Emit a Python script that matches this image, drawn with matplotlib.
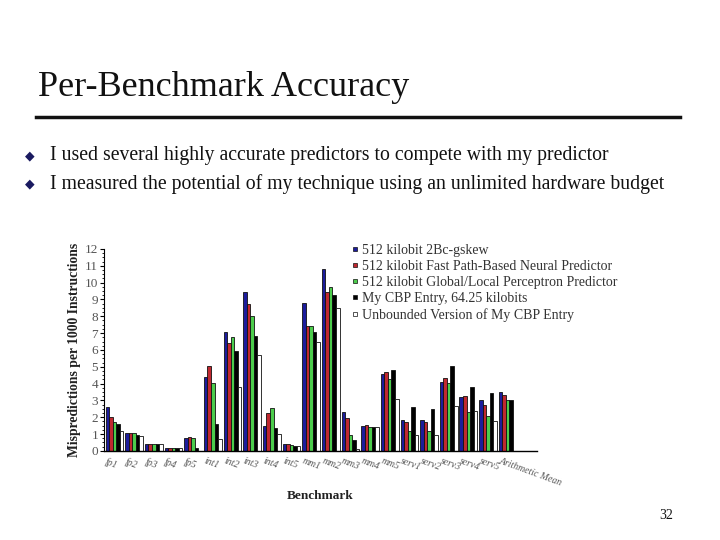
"""
Per-benchmark branch misprediction rates, redrawn as a slide.
"""
import numpy as np
import matplotlib
matplotlib.use("Agg")
import matplotlib.pyplot as plt
from matplotlib.lines import Line2D

# benchmarks along the x axis
benchmarks = ["fp1", "fp2", "fp3", "fp4", "fp5",
              "int1", "int2", "int3", "int4", "int5",
              "mm1", "mm2", "mm3", "mm4", "mm5",
              "serv1", "serv2", "serv3", "serv4", "serv5",
              "Arithmetic Mean"]

# mispredictions per 1000 instructions
gskew = [2.6, 1.07, 0.42, 0.18, 0.77, 4.4, 7.07, 9.45, 1.49, 0.42,
         8.79, 10.81, 2.32, 1.49, 4.57, 1.84, 1.84, 4.10, 3.21, 3.03, 3.50]
path_neural = [2.02, 1.07, 0.42, 0.18, 0.83, 5.05, 6.42, 8.73, 2.26, 0.42,
               7.43, 9.45, 1.96, 1.54, 4.69, 1.72, 1.72, 4.34, 3.27, 2.73, 3.33]
perceptron = [1.70, 1.07, 0.42, 0.18, 0.77, 4.04, 6.77, 8.02, 2.55, 0.34,
              7.43, 9.74, 0.95, 1.43, 4.28, 1.19, 1.17, 4.04, 2.34, 2.08, 3.03]
cbp_entry = [1.60, 0.95, 0.42, 0.18, 0.20, 1.60, 5.94, 6.83, 1.37, 0.30,
             7.07, 9.27, 0.65, 1.43, 4.81, 2.61, 2.50, 5.05, 3.80, 3.45, 3.03]
unbounded = [1.19, 0.87, 0.42, 0.18, 0.0, 0.71, 3.80, 5.70, 1.01, 0.30,
             6.48, 8.50, 0.12, 1.43, 3.09, 0.95, 0.95, 2.67, 2.38, 1.78, np.nan]

series_names = ["512 kilobit 2Bc-gskew",
                "512 kilobit Fast Path-Based Neural Predictor",
                "512 kilobit Global/Local Perceptron Predictor",
                "My CBP Entry, 64.25 kilobits",
                "Unbounded Version of My CBP Entry"]
series_colors = ["#1c1c9c", "#c02830", "#4ccc4c", "#000000", "#ffffff"]

bullets = ["I used several highly accurate predictors to compete with my predictor",
           "I measured the potential of my technique using an unlimited hardware budget"]

serif = "Liberation Serif"

fig = plt.figure(figsize=(7.2, 5.4), dpi=100)
fig.patch.set_facecolor("white")

# slide title, rule and bullets
fig.text(0.053, 0.838, "Per-Benchmark Accuracy", family=serif, fontsize=26,
         color="#111111", va="center", ha="left")
fig.add_artist(Line2D([0.05, 0.945], [0.783, 0.783], color="#111111", lw=2.5))
for k, line in enumerate(bullets):
    y = 0.712 - k * 0.052
    fig.text(0.035, y, "\u25c6", fontsize=9, color="#1a1a60", va="center",
             family="DejaVu Sans")
    fig.text(0.07, y, line, family=serif, fontsize=14.2, color="#111111", va="center")
fig.text(0.925, 0.038, "32", family=serif, fontsize=10, color="#111111", ha="center")

# bar chart
ax = fig.add_axes([0.144, 0.165, 0.602, 0.374])
x = np.arange(len(benchmarks))
width = 0.18
all_series = [gskew, path_neural, perceptron, cbp_entry, unbounded]
for k, (vals, color) in enumerate(zip(all_series, series_colors)):
    ax.bar(x - 0.36 + k * width, vals, width=width, color=color,
           edgecolor="#111111", linewidth=0.6, align="center")

ax.set_xlim(-0.55, 21.5)
ax.set_ylim(0, 12)
ax.set_yticks(range(0, 13))
ax.set_yticks(np.arange(0, 12.01, 0.25), minor=True)
ax.tick_params(axis="y", which="major", length=3, labelsize=9.5, labelcolor="#555555",
               pad=1)
ax.tick_params(axis="y", which="minor", length=1.5)
for lbl in ax.get_yticklabels():
    lbl.set_family(serif)
ax.set_xticks(x - 0.35)
ax.set_xticklabels(benchmarks, rotation=-20, ha="left", rotation_mode="anchor",
                   family=serif, style="italic", fontsize=7, color="#555555")
ax.tick_params(axis="x", length=0, pad=4)
for side in ["top", "right"]:
    ax.spines[side].set_visible(False)
ax.spines["left"].set_linewidth(0.8)
ax.spines["bottom"].set_linewidth(1.0)

ax.set_ylabel("Mispredictions per 1000 Instructions", family=serif, fontsize=9.8,
              fontweight="bold", color="#222222", labelpad=3)
ax.set_xlabel("Benchmark", family=serif, fontsize=9.5, fontweight="bold",
              color="#222222", labelpad=2)

handles = [Line2D([], [], marker="s", linestyle="none", markersize=3.5,
                  markerfacecolor=c, markeredgecolor="#111111", markeredgewidth=0.5)
           for c in series_colors]
leg = fig.legend(handles, series_names, loc="upper left",
                 bbox_to_anchor=(0.478, 0.561), frameon=False,
                 prop={"family": serif, "size": 10}, handlelength=0.5,
                 handletextpad=0.3, labelspacing=0.22, borderpad=0)
for t in leg.get_texts():
    t.set_color("#333333")

fig.savefig("out.png", dpi=100, facecolor="white")
